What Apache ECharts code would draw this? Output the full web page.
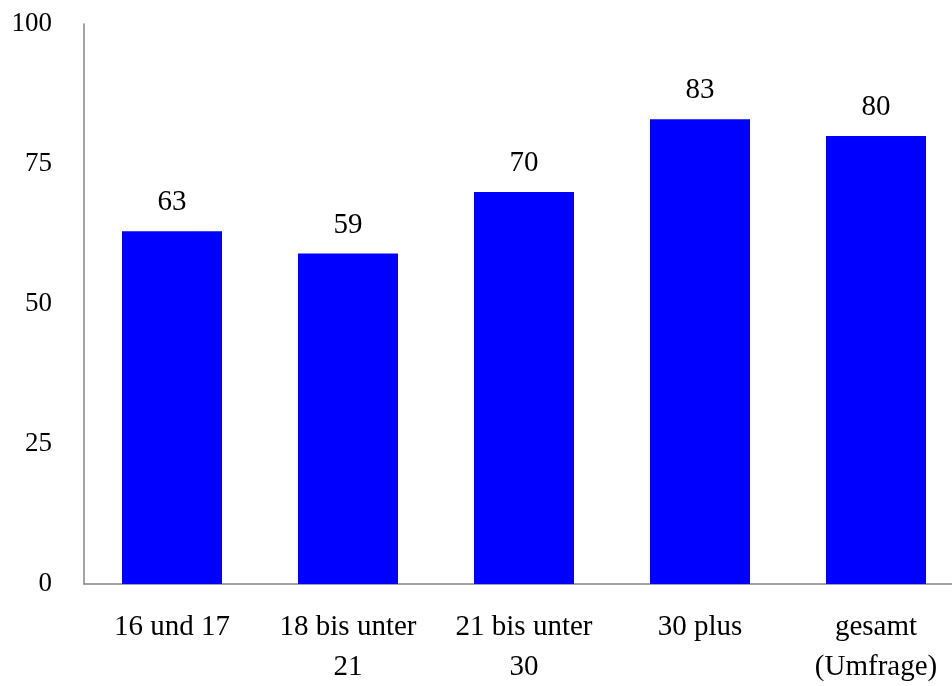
<!DOCTYPE html>
<html>
<head>
<meta charset="utf-8">
<script src="https://cdn.jsdelivr.net/npm/echarts@6/dist/echarts.min.js"></script>
<style>
  html, body { margin: 0; padding: 0; background: #fff; }
  #chart { width: 952px; height: 686px; }
</style>
</head>
<body>
<div id="chart"></div>
<script>
// Altersgruppen und Anteile (Prozent)
const categories = ['16 und 17', '18 bis unter\n21', '21 bis unter\n30', '30 plus', 'gesamt\n(Umfrage)'];
const values = [63, 59, 70, 83, 80];
const yTicks = [0, 25, 50, 75, 100];

const FONT = '"Liberation Serif", "Times New Roman", serif';
const chart = echarts.init(document.getElementById('chart'), null, { renderer: 'canvas' });

chart.setOption({
  animation: false,
  backgroundColor: '#ffffff',
  // plot area runs slightly past the right edge of the canvas
  grid: {
    left: 84, width: 880, top: 24, height: 560,
    containLabel: false,
    outerBoundsMode: 'none'
  },
  xAxis: {
    type: 'category',
    data: categories,
    axisLine: { show: true, lineStyle: { color: '#858585', width: 1.5 } },
    axisTick: { show: false },
    axisLabel: {
      color: '#000000',
      fontFamily: FONT,
      fontSize: 29,
      lineHeight: 40,
      margin: 23,
      interval: 0
    }
  },
  yAxis: {
    type: 'value',
    min: yTicks[0],
    max: yTicks[yTicks.length - 1],
    interval: yTicks[1] - yTicks[0],
    axisLine: { show: true, lineStyle: { color: '#858585', width: 1.5 } },
    axisTick: { show: false },
    splitLine: { show: false },
    axisLabel: {
      color: '#000000',
      fontFamily: FONT,
      fontSize: 27,
      margin: 32
    }
  },
  series: [{
    type: 'bar',
    data: values,
    barWidth: 100,
    itemStyle: { color: '#0000ff' },
    label: {
      show: true,
      position: 'top',
      distance: 14,
      color: '#000000',
      fontFamily: FONT,
      fontSize: 29
    }
  }]
});
</script>
</body>
</html>
